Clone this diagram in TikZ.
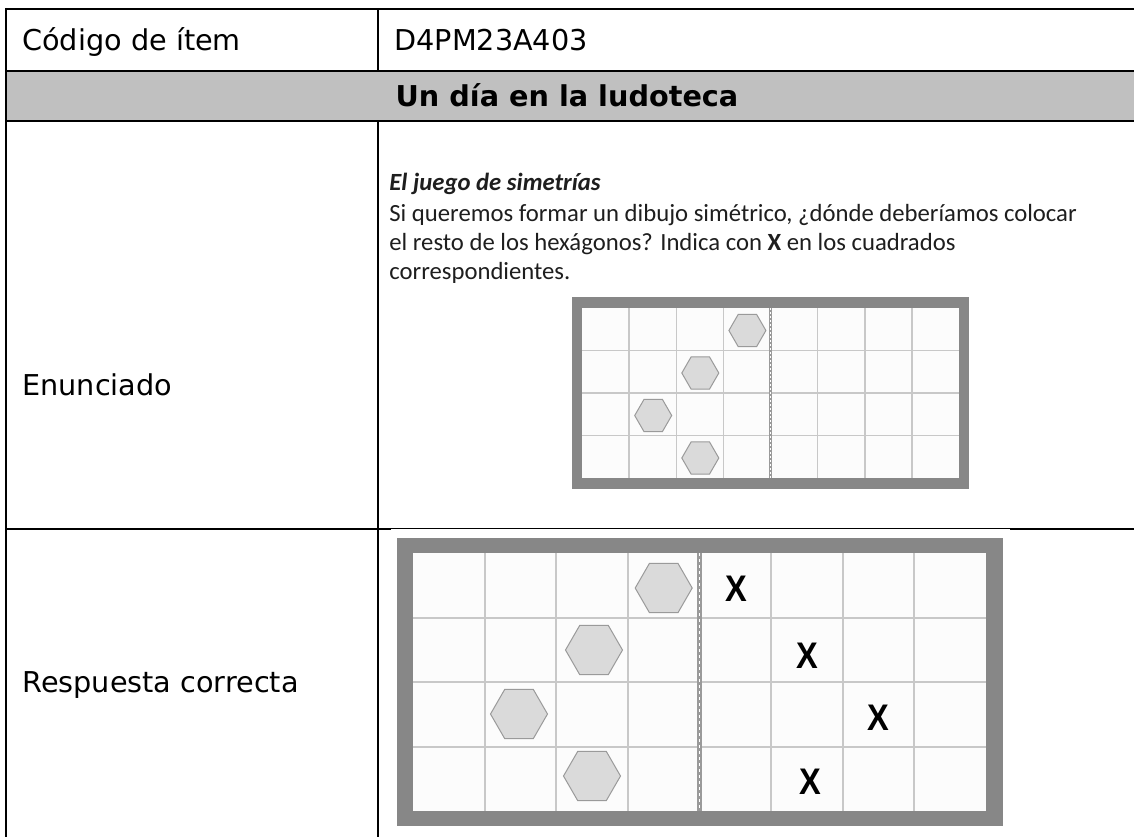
\documentclass[tikz,border=0pt]{standalone}
\usepackage{fontspec}
\setmainfont{DejaVu Sans}
\newfontfamily\carl{Carlito}
\newfontfamily\libsans{Liberation Sans}
\definecolor{hdrgray}{HTML}{C0C0C0}
\definecolor{framegray}{HTML}{878787}
\definecolor{gridgray}{HTML}{C8C8C8}
\definecolor{hexfill}{HTML}{DADADA}
\definecolor{hexline}{HTML}{9A9A9A}
\definecolor{cellbg}{HTML}{FCFCFC}
\definecolor{txtgray}{HTML}{1E1E1E}
\tikzset{
  tline/.style={line width=1.25pt, black},
  lbl/.style={font=\fontsize{14.35pt}{17pt}\selectfont, inner sep=0pt, anchor=base west},
  hdrlbl/.style={font=\fontsize{14.35pt}{17pt}\selectfont\bfseries, inner sep=0pt, anchor=base},
  qtxt/.style={font=\carl\fontsize{12.35pt}{14pt}\selectfont, text=txtgray, inner sep=0pt, anchor=base west},
  gridl/.style={gridgray, line width=0.75pt},
  gridlbig/.style={gridgray, line width=1pt},
  hexa/.style={fill=hexfill, draw=hexline, line width=0.5pt},
  xmark/.style={font=\libsans\bfseries\fontsize{18.5pt}{20pt}\selectfont, inner sep=0pt, anchor=base, xscale=0.88}
}
\begin{document}
\begin{tikzpicture}[x=0.5pt,y=-0.5pt]
\useasboundingbox (0,0) rectangle (1134,837);
\fill[white] (0,0) rectangle (1134,837);
% header band
\fill[hdrgray] (6,71) rectangle (1134,121);
% table rules
\draw[tline] (6,9) -- (1134,9);
\draw[tline] (6,71) -- (1134,71);
\draw[tline] (6,121) -- (1134,121);
\draw[tline] (6,529) -- (1134,529);
\draw[tline] (6,7.75) -- (6,837);
\draw[tline] (378,9) -- (378,71);
\draw[tline] (378,121) -- (378,837);
% texts of the table
\node[lbl] (cod) at (22,50.5) {Código de ítem};
\node[lbl] (codv) at (394,50.5) {D4PM23A403};
\node[hdrlbl] (titulo) at (567,106) {Un día en la ludoteca};
\node[lbl] (enun) at (22,395.5) {Enunciado};
\node[lbl] (resp) at (22,692) {Respuesta correcta};
% statement
\node[qtxt] (q0) at (389,190) {\bfseries\itshape El juego de simetrías};
\node[qtxt] (q1) at (389,221) {Si queremos formar un dibujo simétrico, ¿dónde deberíamos colocar};
\node[qtxt] (q2) at (389,250) {el resto de los hexágonos? Indica con \textbf{X} en los cuadrados};
\node[qtxt] (q3) at (389,279) {correspondientes.};
% ---- small grid ----
\fill[framegray] (572,297) rectangle (969,489);
\fill[cellbg] (582,308) rectangle (959,478);
\foreach \i in {1,2,3,5,6,7} {
  \draw[gridl] ({582+\i*47.125},308) -- ({582+\i*47.125},478);
}
\foreach \j in {1,2,3} {
  \draw[gridl] (582,{308+\j*42.5}) -- (959,{308+\j*42.5});
}
\draw[hexline, line width=1.5pt] (770.5,308) -- (770.5,478);
\draw[white, line width=0.5pt, dash pattern=on 1pt off 1pt] (770.5,308) -- (770.5,478);
\foreach \cx/\cy in {747.4/330.5, 700.3/373, 653.2/415.5, 700.3/458} {
  \draw[hexa] (\cx,\cy) +(0:18.5) -- +(60:18.5) -- +(120:18.5) -- +(180:18.5) -- +(240:18.5) -- +(300:18.5) -- cycle;
}
% ---- answer picture ----
\fill[white] (391,529.4) rectangle (1010,837);
\fill[framegray] (397,538) rectangle (1003,826);
\fill[cellbg] (413,553) rectangle (986,811);
\foreach \i in {1,2,3,5,6,7} {
  \draw[gridlbig] ({413+\i*71.625},553) -- ({413+\i*71.625},811);
}
\foreach \j in {1,2,3} {
  \draw[gridlbig] (413,{553+\j*64.5}) -- (986,{553+\j*64.5});
}
\draw[hexline, line width=2.25pt] (699.5,553) -- (699.5,811);
\draw[white, line width=0.75pt, dash pattern=on 1.5pt off 1.5pt] (699.5,553) -- (699.5,811);
\foreach \cx/\cy in {663.7/588, 594/650, 519/714, 592/776} {
  \draw[hexa] (\cx,\cy) +(0:28.5) -- +(60:28.5) -- +(120:28.5) -- +(180:28.5) -- +(240:28.5) -- +(300:28.5) -- cycle;
}
\node[xmark] (x1) at (736,601.5) {X};
\node[xmark] (x2) at (807,668) {X};
\node[xmark] (x3) at (878,730.5) {X};
\node[xmark] (x4) at (810,794) {X};
\end{tikzpicture}
\end{document}
